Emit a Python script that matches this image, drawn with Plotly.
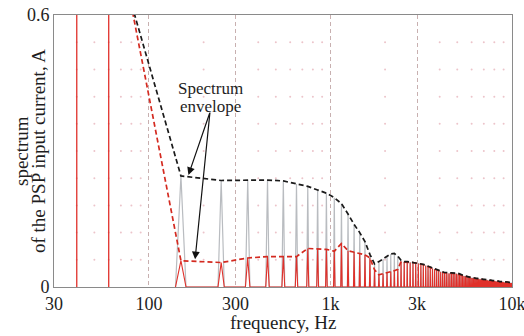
import math
import plotly.graph_objects as go

# ---------------- data ----------------
# odd harmonics of 50 Hz shown in the spectra
harmonic_freq = [50 * k for k in range(3, 200, 2)]  # 150 ... 9950 Hz

# peak amplitudes of the grey spectrum (A) at each harmonic
grey_peaks = [
    0.245, 0.235, 0.236, 0.236, 0.234, 0.227, 0.222, 0.214, 0.207, 0.197,
    0.184, 0.161, 0.138, 0.120, 0.100, 0.072, 0.051, 0.056, 0.062, 0.068,
    0.073, 0.074, 0.068, 0.059, 0.056, 0.056, 0.055, 0.055, 0.054, 0.053,
    0.052, 0.050, 0.048, 0.046, 0.044, 0.042, 0.040, 0.038, 0.036, 0.035,
    0.033, 0.032, 0.032, 0.031, 0.031, 0.031, 0.031, 0.030, 0.030, 0.030,
    0.029, 0.027, 0.026, 0.025, 0.024, 0.023, 0.022, 0.022, 0.021, 0.021,
    0.020, 0.020, 0.019, 0.019, 0.018, 0.018, 0.018, 0.017, 0.017, 0.017,
    0.016, 0.016, 0.016, 0.015, 0.015, 0.015, 0.014, 0.014, 0.014, 0.014,
    0.013, 0.013, 0.013, 0.013, 0.012, 0.012, 0.012, 0.012, 0.012, 0.011,
    0.011, 0.011, 0.011, 0.011, 0.011, 0.010, 0.010, 0.010, 0.010,
]

# peak amplitudes of the red spectrum (A) at each harmonic
red_peaks = [
    0.058, 0.054, 0.064, 0.067, 0.067, 0.067, 0.085, 0.084, 0.083, 0.079,
    0.096, 0.080, 0.077, 0.074, 0.071, 0.064, 0.038, 0.027, 0.029, 0.031,
    0.034, 0.036, 0.039, 0.056, 0.055, 0.055, 0.054, 0.054, 0.053, 0.052,
    0.051, 0.049, 0.047, 0.045, 0.043, 0.041, 0.039, 0.037, 0.035, 0.033,
    0.032, 0.031, 0.031, 0.030, 0.030, 0.030, 0.030, 0.029, 0.029, 0.028,
    0.027, 0.026, 0.025, 0.024, 0.023, 0.022, 0.021, 0.021, 0.020, 0.020,
    0.019, 0.019, 0.018, 0.018, 0.017, 0.017, 0.017, 0.016, 0.016, 0.016,
    0.015, 0.015, 0.015, 0.014, 0.014, 0.014, 0.013, 0.013, 0.013, 0.013,
    0.012, 0.012, 0.012, 0.012, 0.011, 0.011, 0.011, 0.011, 0.011, 0.010,
    0.010, 0.010, 0.010, 0.010, 0.010, 0.009, 0.009, 0.009, 0.009,
]

# fundamental (50 Hz) values of the envelopes, off the top of the scale
fund_freq = 50
grey_fund = 0.91
red_fund = 1.04

# low-frequency red components (off scale)
red_low_freq = [40, 60]
red_low_amp = [1.2, 1.2]

bin_width = 10  # Hz, spectral resolution

x_tickvals = [30, 100, 300, 1000, 3000, 10000]
x_ticktext = ["30", "100", "300", "1k", "3k", "10k"]
y_tickvals = [0, 0.6]
y_ticktext = ["0", "0.6"]

# ---------------- build line data ----------------
def spikes(freqs, amps, half):
    xs, ys = [], []
    for f, a in zip(freqs, amps):
        xs += [f - half, f, f + half]
        ys += [0, a, 0]
    return xs, ys

gx, gy = spikes(harmonic_freq, grey_peaks, bin_width)
rx, ry = spikes(harmonic_freq, red_peaks, bin_width)

lx, ly = [], []
for f, a in zip(red_low_freq, red_low_amp):
    lx += [f, f, None]
    ly += [0, a, None]

env_x = [fund_freq] + harmonic_freq
grey_env = [grey_fund] + grey_peaks
red_env = [red_fund] + red_peaks

# faint grid dots at minor log positions
dot_x = []
for dec in [10, 100, 1000]:
    for m in range(2, 10):
        v = dec * m
        if 30 < v < 10000 and v not in (300, 3000):
            dot_x.append(v)
dot_y = [0.06 * k for k in range(1, 10)]
dx, dy = [], []
for yv in dot_y:
    for xv in dot_x:
        dx.append(xv)
        dy.append(yv)

SERIF = "Liberation Serif, Times New Roman, Times, serif"
TXT = "#1e1e1e"

fig = go.Figure()
fig.add_trace(go.Scatter(x=dx, y=dy, mode="markers",
                         marker=dict(size=2, color="#ecc4ca"), hoverinfo="skip"))
fig.add_trace(go.Scatter(x=gx, y=gy, mode="lines",
                         line=dict(color="#b9bcc0", width=1.2), hoverinfo="skip"))
fig.add_trace(go.Scatter(x=rx, y=ry, mode="lines",
                         line=dict(color="#e0302a", width=1.1), hoverinfo="skip"))
fig.add_trace(go.Scatter(x=lx, y=ly, mode="lines",
                         line=dict(color="#e0302a", width=1.3), hoverinfo="skip"))
fig.add_trace(go.Scatter(x=env_x, y=red_env, mode="lines",
                         line=dict(color="#d42a20", width=1.7, dash="5px,3px"),
                         hoverinfo="skip"))
fig.add_trace(go.Scatter(x=env_x, y=grey_env, mode="lines",
                         line=dict(color="#1a1a1a", width=1.7, dash="5px,3px"),
                         hoverinfo="skip"))

axis_common = dict(showline=True, mirror=True, linecolor="#8a8a8a", linewidth=1,
                   zeroline=False, ticks="", automargin=False,
                   ticklabeloverflow="allow",
                   tickfont=dict(family=SERIF, size=18, color=TXT))

fig.update_layout(
    width=524, height=336,
    margin=dict(l=54, r=12, t=15, b=49, autoexpand=False),
    plot_bgcolor="white", paper_bgcolor="white",
    showlegend=False, hovermode=False,
    xaxis=dict(type="log", range=[math.log10(30) - 0.0005, 4.0005],
               tickmode="array", tickvals=x_tickvals, ticktext=x_ticktext,
               showgrid=True, gridcolor="#c8b0b0", griddash="4px,3px", gridwidth=1,
               **axis_common),
    yaxis=dict(range=[0, 0.6001], tickmode="array", tickvals=y_tickvals, ticktext=y_ticktext,
               showgrid=False, **axis_common),
)

ann_font = dict(family=SERIF, size=17, color=TXT)
title_font = dict(family=SERIF, size=19, color=TXT)
fig.add_annotation(text="frequency, Hz", xref="paper", yref="paper", x=0.5, y=0,
                   yshift=-35, showarrow=False, font=title_font,
                   xanchor="center", yanchor="middle")
fig.add_annotation(text="spectrum", xref="paper", yref="paper", x=0, y=0.5,
                   xshift=-33, textangle=-90, showarrow=False, font=title_font,
                   xanchor="center", yanchor="middle")
fig.add_annotation(text="of the PSP input current, A", xref="paper", yref="paper", x=0, y=0.5,
                   xshift=-16, textangle=-90, showarrow=False, font=title_font,
                   xanchor="center", yanchor="middle")
fig.add_annotation(text="Spectrum", xref="paper", yref="paper", x=0.342, y=0.73,
                   showarrow=False, font=ann_font, xanchor="center", yanchor="middle")
fig.add_annotation(text="envelope", xref="paper", yref="paper", x=0.342, y=0.664,
                   showarrow=False, font=ann_font, xanchor="center", yanchor="middle")
fig.add_annotation(text="", x=math.log10(165), y=0.247, xref="x", yref="y",
                   ax=21.7, ay=-63.3, showarrow=True, arrowhead=2, arrowsize=1.3,
                   arrowwidth=1.2, arrowcolor="#111111")
fig.add_annotation(text="", x=math.log10(179.5), y=0.061, xref="x", yref="y",
                   ax=15, ay=-148.3, showarrow=True, arrowhead=2, arrowsize=1.3,
                   arrowwidth=1.2, arrowcolor="#111111")

fig.write_html("out.html",
               config={"displayModeBar": False, "staticPlot": True},
               post_script="document.body.style.margin='0';document.body.style.overflow='hidden';")
